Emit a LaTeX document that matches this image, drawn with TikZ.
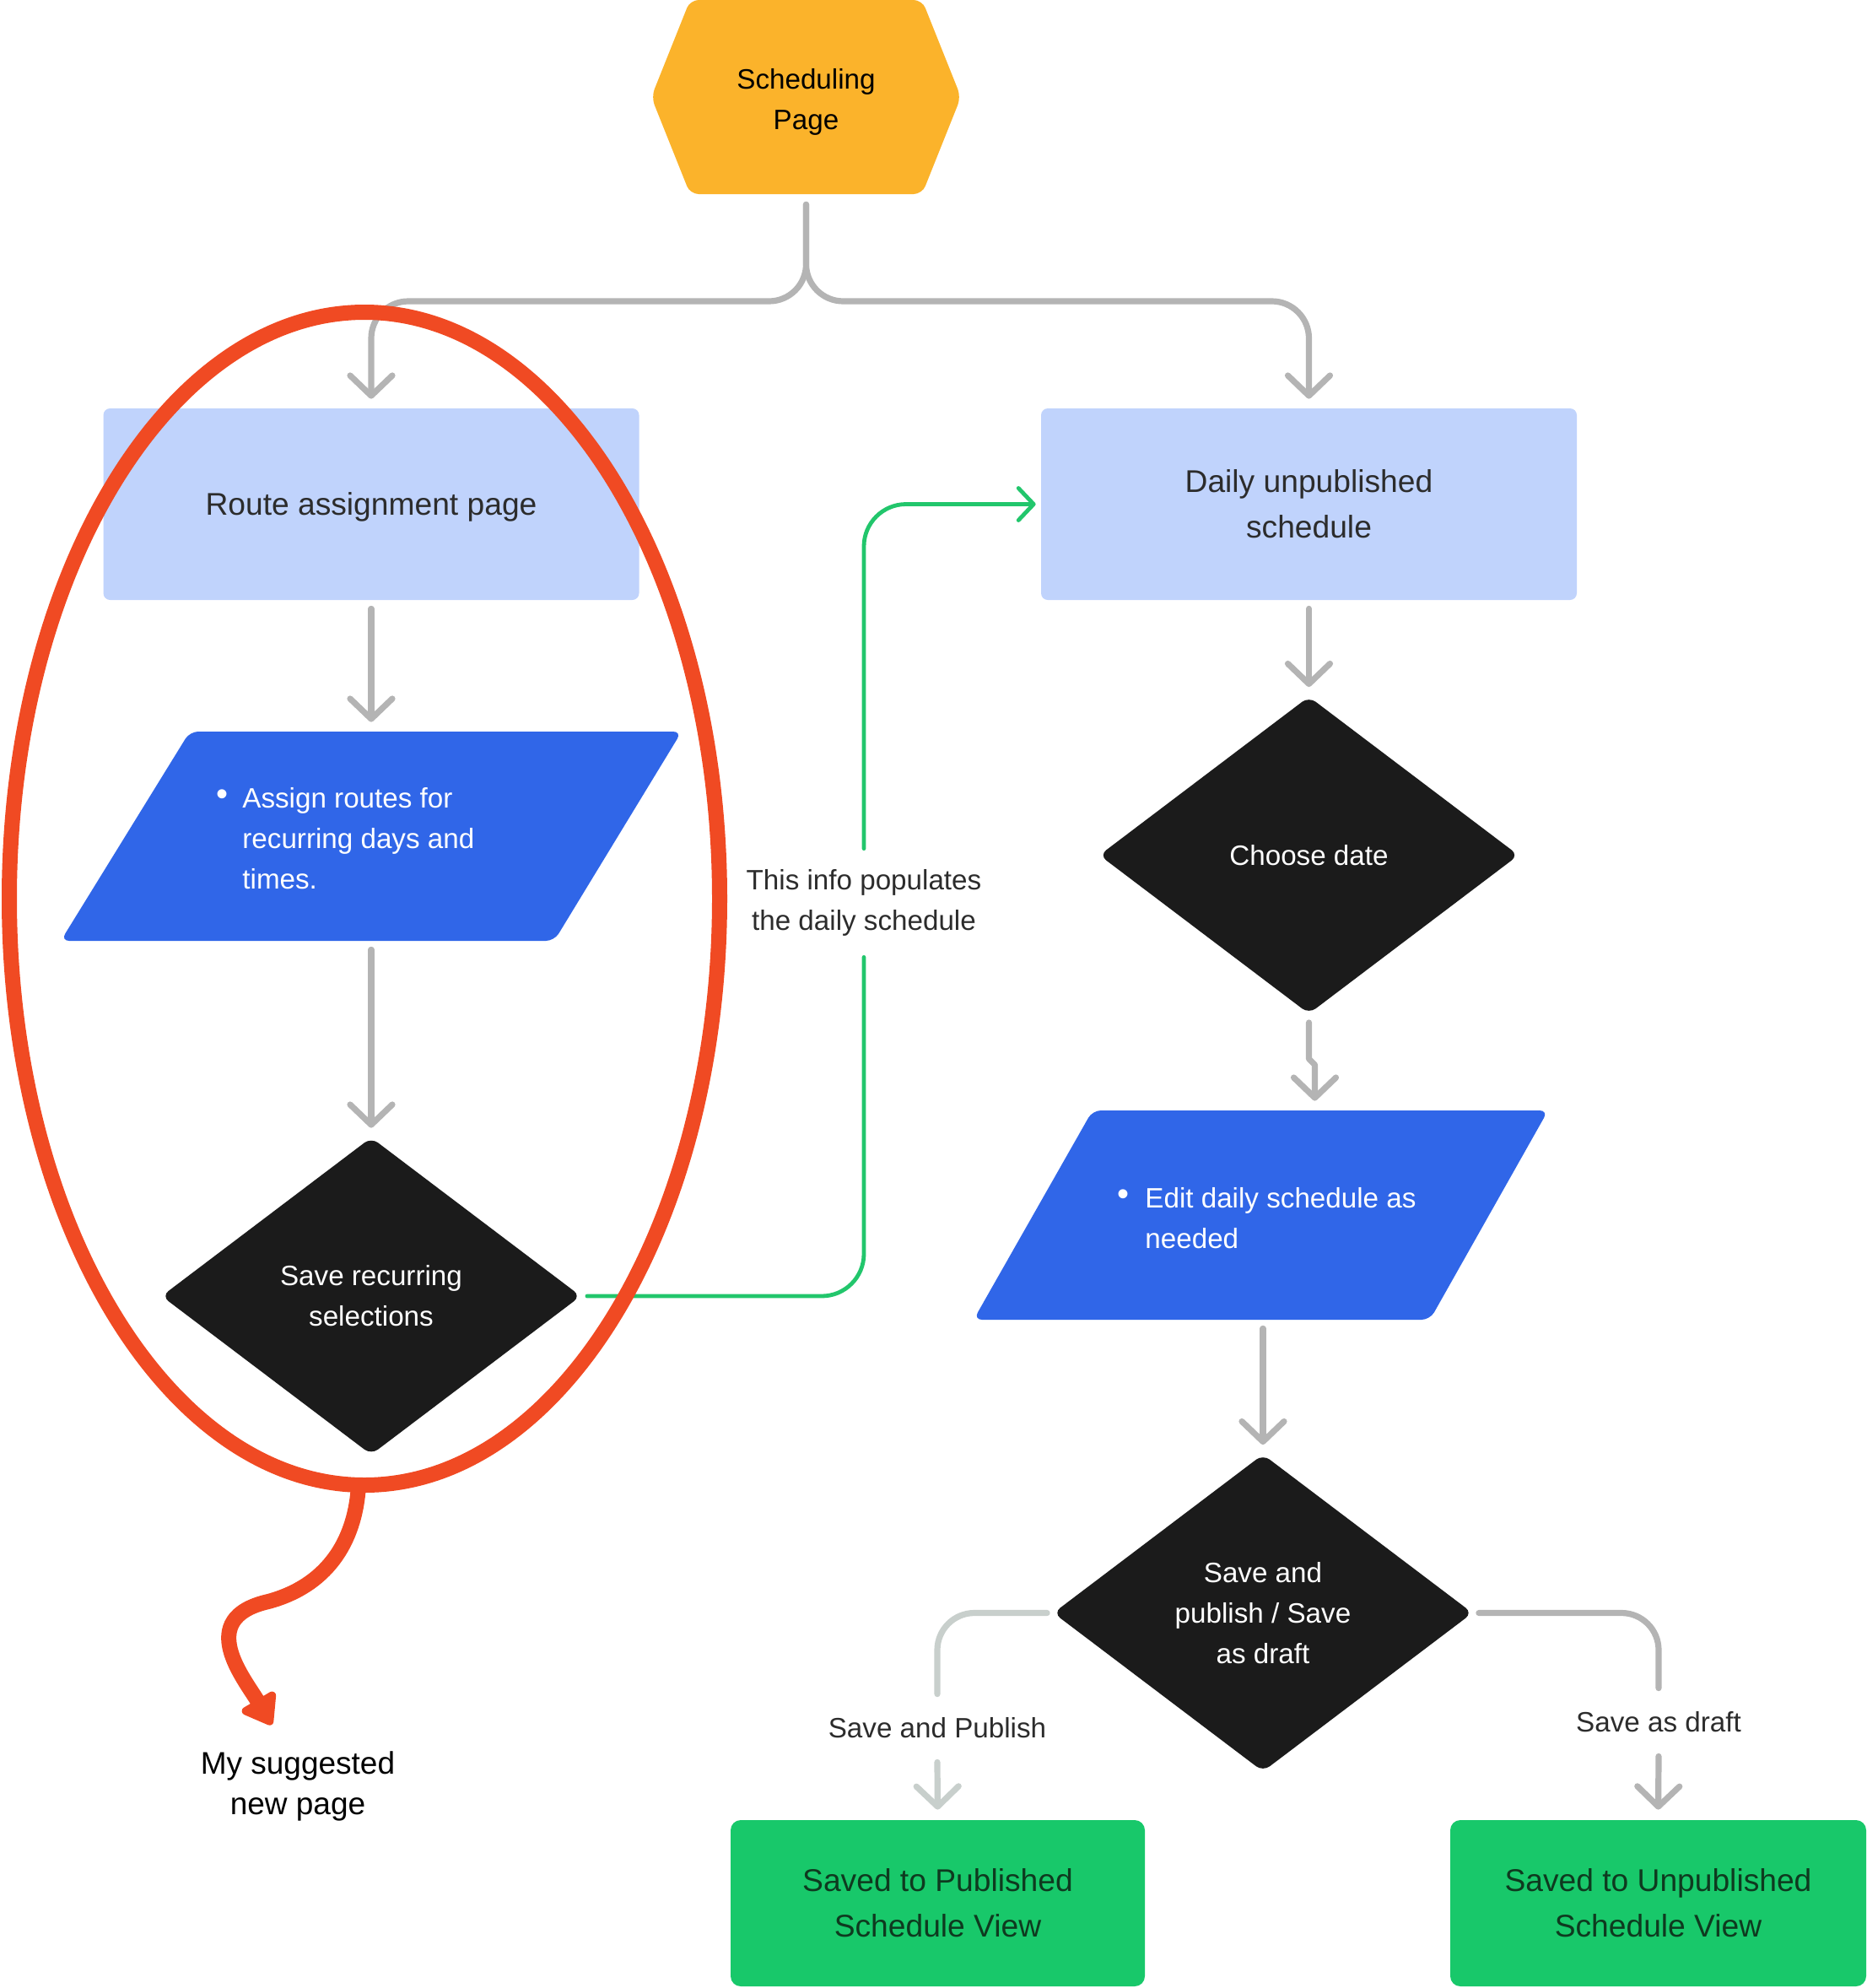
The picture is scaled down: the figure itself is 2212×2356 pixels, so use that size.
\documentclass[tikz,border=0pt]{standalone}
\usepackage{fontspec}
\setmainfont{Liberation Sans}
\usetikzlibrary{arrows.meta,shapes.geometric}
\definecolor{hexc}{HTML}{FBB32B}
\definecolor{lblue}{HTML}{C0D3FC}
\definecolor{pblue}{HTML}{3066E8}
\definecolor{dark}{HTML}{1B1B1B}
\definecolor{gfill}{HTML}{18C86A}
\definecolor{gtext}{HTML}{0E3A1F}
\definecolor{gcon}{HTML}{22C66C}
\definecolor{redc}{HTML}{F04A23}
\definecolor{grayc}{HTML}{B4B4B4}
\definecolor{lgray}{HTML}{C8CFCC}
\definecolor{txt}{HTML}{2C2C2C}
\begin{document}
\begin{tikzpicture}[x=0.5pt,y=-0.5pt,
  bigtxt/.style={font=\fontsize{18.6pt}{27pt}\selectfont},
  smalltxt/.style={font=\fontsize{16.6pt}{24pt}\selectfont},
  lbox/.style={rectangle, rounded corners=4pt, minimum width=317.5pt, minimum height=113.5pt, inner sep=0pt, fill=lblue, text=txt, bigtxt, align=center},
  dia/.style={diamond, rounded corners=5pt, minimum width=248.5pt, minimum height=188pt, inner sep=0pt, fill=dark, text=white, smalltxt, align=center},
  gbox/.style={rectangle, rounded corners=6pt, minimum height=98.5pt, inner sep=0pt, fill=gfill, text=gtext, bigtxt, align=center},
  pframe/.style={rectangle, inner sep=0pt, minimum width=#1, minimum height=124pt},
  ptext/.style={smalltxt, text=white, align=left, anchor=west, inner sep=0pt},
  bul/.style={text=white, inner sep=0pt, font=\fontsize{20pt}{20pt}\selectfont},
  lbl/.style={smalltxt, text=txt, align=center, inner sep=0pt, minimum height=#1},
  gtip/.style={-{Straight Barb[length=12pt,width=25pt,round]}},
  conn/.style={draw=grayc, line width=3.6pt, line cap=round, line join=round},
  garrow/.style={conn, gtip, shorten <=5pt, shorten >=5.5pt},
  greenc/.style={draw=gcon, line width=2.4pt, line cap=round, line join=round, rounded corners=25pt},
]
\useasboundingbox (0,0) rectangle (2212,2356);

% hexagon
\fill[hexc, rounded corners=5pt] (955,0) -- (1093,0) -- (1139,115) -- (1093,230) -- (818,230) -- (772,115) -- (818,0) -- cycle;
\node[smalltxt, text=black, align=center, inner sep=0pt, minimum width=183.5pt, minimum height=100pt] (sched) at (955.5,121) {Scheduling\\Page};

% boxes
\node[lbox, text depth=0pt] (rap) at (440,597.5) {Route assignment page};
\node[lbox] (daily) at (1551.5,597.5) {Daily unpublished\\schedule};

% parallelograms
\fill[pblue, rounded corners=5pt] (516,867) -- (808,867) -- (657,1115) -- (72,1115) -- (225,867) -- cycle;
\node[pframe=291.5pt] (p1) at (440,991) {};
\node[bul] (b1) at (263,945) {\textbullet};
\node[ptext] (t1) at (287,994) {Assign routes for\\recurring days and\\times.};

\fill[pblue, rounded corners=5pt] (1565,1316) -- (1835,1316) -- (1695,1564) -- (1154,1564) -- (1295,1316) -- cycle;
\node[pframe=270pt] (p2) at (1497,1440) {};
\node[bul] (b2) at (1331,1419) {\textbullet};
\node[ptext] (t2) at (1357,1444) {Edit daily schedule as\\needed};

% diamonds
\node[dia] (d1) at (440,1536) {Save recurring\\selections};
\node[dia] (d2) at (1551.5,1013.5) {Choose date};
\node[dia] (d3) at (1497,1911.5) {Save and\\publish / Save\\as draft};

% green boxes
\node[gbox, minimum width=245.5pt] (gp) at (1111.5,2255.5) {Saved to Published\\Schedule View};
\node[gbox, minimum width=246.5pt] (gu) at (1965.5,2255.5) {Saved to Unpublished\\Schedule View};

% labels
\node[lbl=64pt] (info) at (1024,1070) {This info populates\\the daily schedule};
\node[lbl=40pt] (lblL) at (1111,2048) {Save and Publish};
\node[lbl=40pt] (lblR) at (1966,2041) {Save as draft};

% connectors
\coordinate (split) at (955.5,357);
\draw[garrow, rounded corners=22pt] ([yshift=-5.5pt]sched.south) -- (split) -- (rap.north |- split) -- (rap.north);
\draw[garrow, rounded corners=22pt] ([yshift=-5.5pt]sched.south) -- (split) -- (daily.north |- split) -- (daily.north);
\draw[garrow] (rap.south) -- (p1.north);
\draw[garrow] (p1.south) -- (d1.north);
\draw[garrow] (daily.south) -- (d2.north);
\draw[garrow] (d2.south) -- ++(0,53) -- ++(7,7) coordinate (jog) -- (jog |- p2.north);
\draw[garrow] (p2.south -| d3.north) -- (d3.north);

\draw[greenc] ([xshift=3.5pt]d1.east) -| (info.south);
\draw[greenc, -{Straight Barb[length=9pt,width=19pt,round]}, shorten >=3pt] (info.north) |- (daily.west);

\draw[conn, draw=lgray, rounded corners=22pt, shorten <=3.5pt] (d3.west) -| (lblL.north);
\draw[conn, draw=lgray, gtip, shorten >=6pt] (lblL.south) -- (gp.north);
\draw[conn, rounded corners=22pt, shorten <=3.5pt] (d3.east) -| (lblR.north);
\draw[conn, gtip, shorten >=6pt] (lblR.south) -- (gu.north);

% red annotation
\node[ellipse, draw=redc, line width=9pt, inner sep=0pt, outer sep=0pt, minimum width=421pt, minimum height=695pt] (egg) at (432,1065) {};
\coordinate (redtip) at (322,2044);
\draw[redc, line width=9pt, line cap=round, -{Triangle[length=19pt,width=26pt,round]}] ([xshift=-3.5pt]egg.south) .. controls (421,1830) and (385,1880) .. (318,1898) .. controls (230,1918) and (290,1990) .. (redtip);
\node[font=\fontsize{18.5pt}{24pt}\selectfont, align=center, inner sep=0pt] (mysug) at (353,2117) {My suggested\\new page};
\end{tikzpicture}
\end{document}
